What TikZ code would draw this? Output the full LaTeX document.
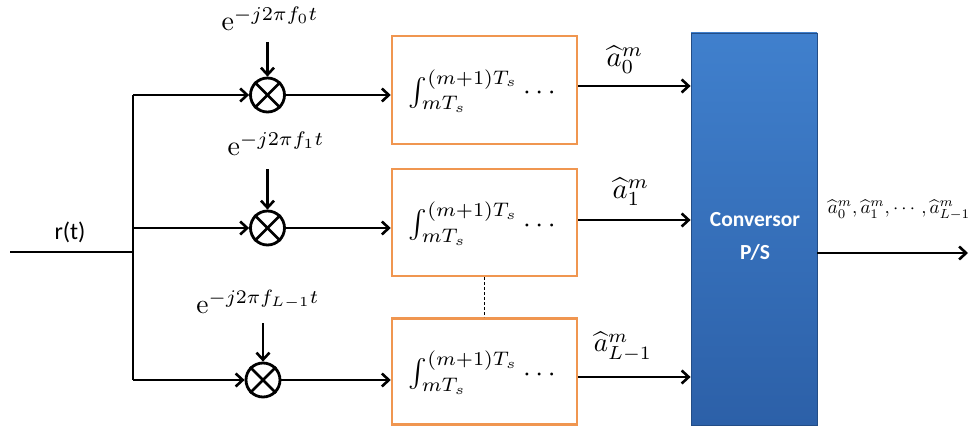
\documentclass[tikz,border=0pt]{standalone}
\usepackage{fontspec}
\usepackage{amsmath}
\usepackage{graphicx}
\newfontfamily\calib{Carlito}
\usetikzlibrary{arrows.meta}
\definecolor{boxorange}{RGB}{240,150,80}
\definecolor{bluetop}{RGB}{64,128,205}
\definecolor{bluebot}{RGB}{44,96,168}
\newcommand{\scmath}[2]{\scalebox{#1}{$#2$}}
\begin{document}
\begin{tikzpicture}[x=1pt,y=-1pt,
  wire/.style={line width=2.9pt},
  arr/.style={wire,-{Straight Barb[length=7pt,width=13pt,line width=2.6pt]}},
  mixer/.style={circle,draw,line width=2.8pt,minimum size=34pt,inner sep=0pt},
  intbox/.style={draw=boxorange,line width=2.5pt,minimum width=185pt,inner sep=0pt,fill=white},
  lbl/.style={inner sep=0pt}
]
\useasboundingbox (0,0) rectangle (975,428);

% input and bus
\coordinate (in) at (10,252);
\coordinate (bus) at (133,252);
\coordinate (b1) at (133,95);
\coordinate (b2) at (133,228);
\coordinate (b3) at (133,380);
\node[font=\calib\fontsize{24}{26}\selectfont] (rt) at (70,232) {r(t)};

% mixers
\node[mixer] (m1) at (267.5,95) {};
\node[mixer] (m2) at (267.5,228) {};
\node[mixer] (m3) at (263,380) {};
\foreach \m in {m1,m2,m3}{
  \draw[line width=2.6pt] (\m.north west) -- (\m.south east);
  \draw[line width=2.6pt] (\m.north east) -- (\m.south west);
}
\coordinate (t1) at (267.5,42);
\coordinate (t2) at (267.5,169);
\coordinate (t3) at (263,323);
\node[lbl] (e1) at (270,19) {\scmath{2.8}{\mathrm{e}^{-j2\pi f_0 t}}};
\node[lbl] (e2) at (276,144) {\scmath{2.8}{\mathrm{e}^{-j2\pi f_1 t}}};
\node[lbl] (e3) at (258,302) {\scmath{2.75}{\mathrm{e}^{-j2\pi f_{L-1} t}}};

% integrator boxes
\node[intbox,minimum height=108pt] (box1) at (484.5,90) {};
\node[intbox,minimum height=107pt] (box2) at (484.5,222.5) {};
\node[intbox,minimum height=106pt] (box3) at (484.5,371.5) {};
\foreach \b in {box1,box2,box3}{
  \node[lbl] (\b t) at ([yshift=-1pt]\b.center) {\scmath{2.8}{\int_{mT_s}^{(m+1)T_s}\cdots}};
}
\draw[line width=1.1pt,dash pattern=on 3pt off 2pt] (box2.south) -- (box3.north);

% P/S converter
\node[draw=bluebot!80!black,line width=0.8pt,top color=bluetop,bottom color=bluebot,
  minimum width=126pt,minimum height=392pt,inner sep=0pt] (ps) at (754,229) {};
\node[align=center,text=white,font=\calib\bfseries\fontsize{21.5}{33}\selectfont]
  (pst) at (755,236) {Conversor\\P/S};

% wires
\draw[wire] (in) -- (bus);
\draw[wire] (b1) -- (b3);
\draw[arr] (b1) -- (m1.west);
\draw[arr] (b2) -- (m2.west);
\draw[arr] (b3) -- (m3.west);
\draw[arr] (t1) -- (m1.north);
\draw[arr] (t2) -- (m2.north);
\draw[arr] (t3) -- (m3.north);
\draw[arr] (m1.east) -- (m1.east -| box1.west);
\draw[arr] (m2.east) -- (m2.east -| box2.west);
\draw[arr] (m3.east) -- (m3.east -| box3.west);

\coordinate (o1) at (box1.east |- 0,86);
\coordinate (o2) at (box2.east |- 0,220);
\coordinate (o3) at (box3.east |- 0,377);
\draw[arr] (o1) -- (o1 -| ps.west);
\draw[arr] (o2) -- (o2 -| ps.west);
\draw[arr] (o3) -- (o3 -| ps.west);
\node[lbl] (a0) at (625,60) {\scmath{2.85}{\widehat{a}_0^m}};
\node[lbl] (a1) at (631,192) {\scmath{2.85}{\widehat{a}_1^m}};
\node[lbl] (aL) at (623,347) {\scmath{2.7}{\widehat{a}_{L-1}^m}};

\coordinate (out) at (968,253);
\draw[arr] (ps.east |- out) -- (out);
\node[lbl] (outl) at (899,210) {\scmath{1.88}{\widehat{a}_0^m,\widehat{a}_1^m,\cdots,\widehat{a}_{L-1}^m}};
\end{tikzpicture}
\end{document}
